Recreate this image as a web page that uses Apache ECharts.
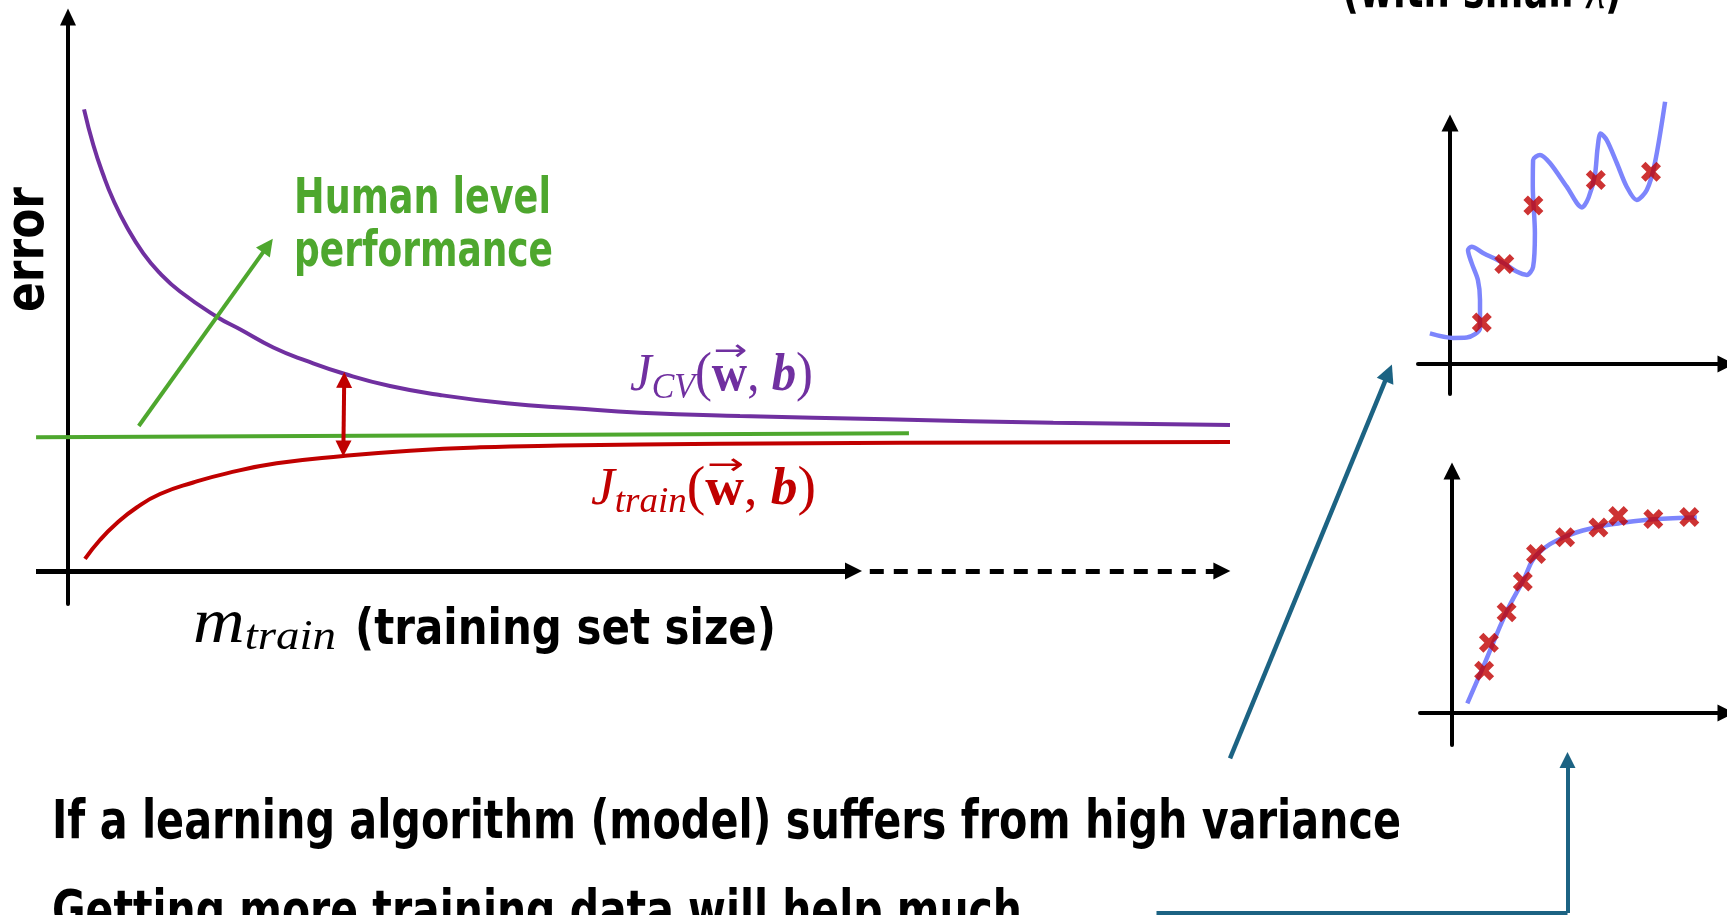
<!DOCTYPE html>
<html>
<head>
<meta charset="utf-8">
<title>Learning curves — high variance</title>
<script src="https://cdn.jsdelivr.net/npm/echarts@6/dist/echarts.min.js"></script>
<style>
  html, body { margin: 0; padding: 0; background: #ffffff; }
  #chart { width: 1727px; height: 915px; }
</style>
</head>
<body>
<div id="chart"></div>
<script>
// ---- Learning curves: error vs. training-set size (arbitrary units, 0..100) ----
const cvX = [1.38, 2.18, 3.04, 3.90, 5.05, 6.48, 7.92, 9.64, 12.80, 14.80, 17.67, 20.54, 23.84, 27.71, 32.01, 37.75, 43.49, 49.23, 57.83, 70.46, 84.79, 100];
const cvY = [82.15, 75.80, 70.46, 66.01, 61.26, 56.53, 52.97, 49.73, 45.25, 43.01, 39.77, 37.37, 35.05, 32.92, 31.32, 29.84, 28.95, 28.17, 27.58, 26.99, 26.39, 25.98];

const trainX = [1.46, 2.75, 4.19, 5.91, 7.92, 10.78, 13.66, 17.96, 23.69, 29.43, 35.46, 42.34, 56.11, 71.60, 100];
const trainY = [2.17, 5.52, 8.49, 11.30, 13.70, 15.75, 17.38, 19.16, 20.46, 21.41, 22.01, 22.31, 22.63, 22.81, 22.95];

// Human level performance baseline
const humanX = [-2.75, 72.37];
const humanY = [23.8, 24.5];

// ---- Overfitting model (small lambda): wiggly fit through few examples ----
const wiggleX = [-0.67, 0.10, 0.56, 1.00, 1.00, 0.93, 0.72, 0.60, 0.72, 1.10, 1.77, 2.22, 2.56, 2.77, 2.83, 2.76, 2.77, 3.00, 3.33, 3.89, 4.40, 4.62, 4.83, 4.92, 5.02, 5.22, 5.56, 5.89, 6.22, 6.56, 6.83, 7.17];
const wiggleY = [1.02, 0.87, 0.88, 1.20, 2.13, 2.80, 3.37, 3.80, 3.91, 3.70, 3.37, 3.08, 2.97, 3.24, 4.37, 5.91, 6.80, 6.97, 6.70, 5.91, 5.22, 5.55, 6.30, 7.20, 7.68, 7.47, 6.70, 5.91, 5.47, 5.80, 6.70, 8.74];
const fewPtsX = [1.06, 1.81, 2.78, 4.86, 6.70];
const fewPtsY = [1.38, 3.33, 5.28, 6.13, 6.41];

// ---- Same model with many examples: smooth saturating fit ----
const fitX = [0.51, 1.04, 1.82, 2.38, 2.82, 3.77, 4.88, 5.54, 6.71, 8.16];
const fitY = [0.32, 1.54, 3.38, 4.43, 5.27, 5.88, 6.21, 6.32, 6.46, 6.52];
const manyPtsX = [1.07, 1.23, 1.82, 2.36, 2.80, 3.77, 4.88, 5.54, 6.71, 7.91];
const manyPtsY = [1.41, 2.34, 3.36, 4.38, 5.30, 5.86, 6.18, 6.57, 6.47, 6.53];

// ---- Annotation arrows on the slide (pixel-like slide coordinates) ----
const toTopPlot = [[1230, 758.3], [1388.5, 372.9]];
const toBottomPlotH = [[1156.5, 913], [1567.5, 913]];
const toBottomPlotV = [[1567.5, 913], [1567.5, 760]];

// ---- Texts ----
const yName = 'error';
const humanLines = ['Human level', 'performance'];
const xNameTail = '(training set size)';
const caption1 = 'If a learning algorithm (model) suffers from high variance';
const caption2 = 'Getting more training data will help much';
const topTitle = ['(with small ', 'λ', ')'];

const PURPLE = '#7030a0';
const RED = '#c00000';
const GREEN = '#4ea72e';
const BLUE = '#7d85fc';
const TEAL = '#1c6383';
const CROSS = 'path://M4.5,0 L10,5.5 L15.5,0 L20,4.5 L14.5,10 L20,15.5 L15.5,20 L10,14.5 L4.5,20 L0,15.5 L5.5,10 L0,4.5 Z';

const zip = (xs, ys) => xs.map((x, i) => [x, ys[i]]);

// ---- text helpers (measure with the same fonts the canvas renders) ----
const mctx = document.createElement('canvas').getContext('2d');
function measureWidth(t, font) { mctx.font = font; mctx.textBaseline = 'alphabetic'; return mctx.measureText(t).width; }
function midToBase(font) {
  mctx.font = font; mctx.textBaseline = 'middle';
  const d = mctx.measureText('H').actualBoundingBoxDescent;
  mctx.textBaseline = 'alphabetic';
  return d;
}
const SANS = s => `bold ${s}px "DejaVu Sans Condensed", "DejaVu Sans", sans-serif`;
const SERIF = (st, s) => `${st} ${s}px "Liberation Serif", "DejaVu Serif", serif`;
const ARROW_FONT = '30px "DejaVu Sans", sans-serif';

function textEl(t, font, color, x, baseline, sx) {
  return {
    type: 'text', x: x, y: baseline - midToBase(font), scaleX: sx || 1, silent: true, z: 100,
    style: { text: t, font: font, fill: color, align: 'left', verticalAlign: 'middle' }
  };
}
function fitText(t, font, color, x, baseline, width) {
  return textEl(t, font, color, x, baseline, width / measureWidth(t, font));
}
function runs(list, x0, baseline, width) {
  const ws = list.map(r => measureWidth(r.t, r.font));
  const s = width / ws.reduce((a, b) => a + b, 0);
  const out = [];
  let x = x0;
  list.forEach((r, i) => {
    out.push(textEl(r.t, r.font, r.color, x, baseline + (r.dy || 0), s));
    if (r.vec) {
      const w = ws[i] * s;
      const aw = measureWidth('→', ARROW_FONT);
      out.push(textEl('→', ARROW_FONT, r.color, x + w * 0.04, baseline - r.vec, (w * 0.96) / aw));
    }
    x += ws[i] * s;
  });
  return out;
}
function costLabel(sub, color, x0, baseline, width) {
  return runs([
    { t: 'J', font: SERIF('italic', 52), color },
    { t: sub, font: SERIF('italic', 36), color, dy: 8 },
    { t: '(', font: SERIF('normal', 54), color },
    { t: 'w', font: SERIF('bold', 52), color, vec: 30 },
    { t: ', ', font: SERIF('normal', 52), color },
    { t: 'b', font: SERIF('italic bold', 52), color },
    { t: ')', font: SERIF('normal', 54), color }
  ], x0, baseline, width);
}

const graphics = [];
// rotated y-axis name, reading bottom to top
(function () {
  const f = SANS(54);
  const s = 125 / measureWidth(yName, f);
  graphics.push({
    type: 'text', x: 44 - midToBase(f), y: 312, rotation: Math.PI / 2, scaleX: s, silent: true, z: 100,
    style: { text: yName, font: f, fill: '#000', align: 'left', verticalAlign: 'middle' }
  });
})();
graphics.push(fitText(humanLines[0], SANS(50), GREEN, 294, 212.5, 257));
graphics.push(fitText(humanLines[1], SANS(50), GREEN, 294, 265.5, 259));
graphics.push(...runs([
  { t: 'm', font: SERIF('italic', 64), color: '#000' },
  { t: 'train', font: SERIF('italic', 42), color: '#000', dy: 7 }
], 193, 642, 143));
graphics.push(fitText(xNameTail, SANS(50), '#000', 355, 644, 421));
graphics.push(...costLabel('CV', PURPLE, 630, 390, 183));
graphics.push(...costLabel('train', RED, 591, 504, 225));
graphics.push(fitText(caption1, SANS(54), '#000', 52, 839, 1349));
graphics.push(fitText(caption2, SANS(54), '#000', 52, 929, 970));
graphics.push(...runs([
  { t: topTitle[0], font: SANS(54), color: '#000' },
  { t: topTitle[1], font: SERIF('italic', 56), color: '#000' },
  { t: topTitle[2], font: SANS(54), color: '#000' }
], 1342, 8, 280));

// ---- axes ----
function axis(gridIndex, min, max, arrow, extra) {
  return Object.assign({
    type: 'value', gridIndex, min, max,
    axisTick: { show: false }, axisLabel: { show: false }, splitLine: { show: false },
    axisLine: arrow ? {
      show: true, onZero: true, symbol: ['none', 'triangle'], symbolSize: arrow.size,
      lineStyle: { color: '#000', width: arrow.width }
    } : { show: false }
  }, extra || {});
}

function arrowLines(xi, yi, pairs, color, width, symbols, size, dash) {
  return {
    type: 'line', xAxisIndex: xi, yAxisIndex: yi, data: [], silent: true,
    markLine: {
      silent: true, animation: false, symbol: symbols, symbolSize: size,
      label: { show: false }, emphasis: { disabled: true },
      lineStyle: { color, width, type: dash || 'solid', opacity: 1 },
      data: pairs.map(p => [{ coord: p[0] }, { coord: p[1] }])
    }
  };
}

const option = {
  backgroundColor: '#ffffff',
  animation: false,
  grid: [
    { left: 36, top: 17, width: 1194, height: 587 },     // learning curves
    { left: 1418, top: 123, width: 308, height: 271 },   // few examples, overfit
    { left: 1420, top: 471, width: 306, height: 274 },   // many examples
    { left: 0, top: 0, width: 1727, height: 915 }        // slide overlay
  ],
  xAxis: [
    axis(0, -2.754, 100, null),
    axis(1, -1.0667, 9.2, { size: [17, 17], width: 4 }),
    axis(2, -1.0667, 9.133, { size: [17, 17], width: 4 }),
    axis(3, 0, 1727, null, { show: false })
  ],
  yAxis: [
    axis(0, -5.872, 98.58, { size: [16, 17], width: 4 }),
    axis(1, -1.0, 8.033, { size: [17, 17], width: 4 }),
    axis(2, -1.0667, 8.067, { size: [17, 17], width: 4 }),
    axis(3, 0, 915, null, { show: false, inverse: true })
  ],
  series: [
    {
      name: 'J_cv', type: 'line', xAxisIndex: 0, yAxisIndex: 0, data: zip(cvX, cvY),
      smooth: 0.5, symbol: 'none', silent: true, lineStyle: { color: PURPLE, width: 4 }
    },
    {
      name: 'J_train', type: 'line', xAxisIndex: 0, yAxisIndex: 0, data: zip(trainX, trainY),
      smooth: 0.5, symbol: 'none', silent: true, lineStyle: { color: RED, width: 4 }
    },
    {
      name: 'Human level', type: 'line', xAxisIndex: 0, yAxisIndex: 0, data: zip(humanX, humanY),
      symbol: 'none', silent: true, lineStyle: { color: GREEN, width: 4 }
    },
    // x axis of the learning curves: solid, then dashed continuation
    arrowLines(0, 0, [[[-2.754, 0], [67.6, 0]]], '#000', 5, ['none', 'triangle'], 17),
    arrowLines(0, 0, [[[69.0, 0], [99.3, 0]]], '#000', 5, ['none', 'triangle'], 17, [14, 10]),
    // pointer to the human level line
    arrowLines(0, 0, [[[6.09, 25.8], [17.2, 57.9]]], GREEN, 4, ['none', 'triangle'], 17),
    // gap between cross-validation and training error
    arrowLines(0, 0, [[[23.77, 34.0], [23.70, 21.8]]], RED, 4, ['triangle', 'triangle'], 16),

    {
      name: 'overfit', type: 'line', xAxisIndex: 1, yAxisIndex: 1, data: zip(wiggleX, wiggleY),
      smooth: 0.3, symbol: 'none', clip: false, silent: true, lineStyle: { color: BLUE, width: 4.5 }
    },
    {
      name: 'few examples', type: 'scatter', xAxisIndex: 1, yAxisIndex: 1, data: zip(fewPtsX, fewPtsY),
      symbol: CROSS, symbolSize: 20, clip: false, silent: true, itemStyle: { color: RED }, z: 5
    },
    {
      name: 'fit', type: 'line', xAxisIndex: 2, yAxisIndex: 2, data: zip(fitX, fitY),
      smooth: 0.4, symbol: 'none', clip: false, silent: true, lineStyle: { color: BLUE, width: 4.5 }
    },
    {
      name: 'many examples', type: 'scatter', xAxisIndex: 2, yAxisIndex: 2, data: zip(manyPtsX, manyPtsY),
      symbol: CROSS, symbolSize: 20, clip: false, silent: true, itemStyle: { color: RED }, z: 5
    },

    arrowLines(3, 3, [toTopPlot], TEAL, 4.5, ['none', 'triangle'], 18),
    arrowLines(3, 3, [toBottomPlotH], TEAL, 4, ['none', 'none'], 1),
    arrowLines(3, 3, [toBottomPlotV], TEAL, 4, ['none', 'triangle'], 16)
  ],
  graphic: { elements: graphics }
};

const chart = echarts.init(document.getElementById('chart'), null, { renderer: 'canvas' });
chart.setOption(option);
</script>
</body>
</html>
